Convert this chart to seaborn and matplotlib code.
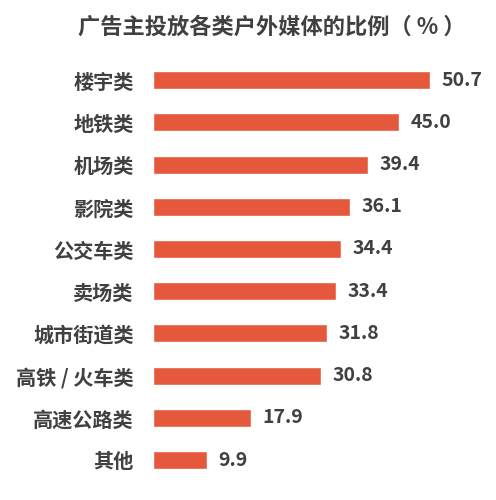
import matplotlib
matplotlib.use('Agg')
import matplotlib.pyplot as plt
import seaborn as sns
import pandas as pd

categories = ["楼宇类", "地铁类", "机场类", "影院类", "公交车类", "卖场类",
              "城市街道类", "高铁 / 火车类", "高速公路类", "其他"]
values = [50.7, 45.0, 39.4, 36.1, 34.4, 33.4, 31.8, 30.8, 17.9, 9.9]
title = "广告主投放各类户外媒体的比例（ % ）"

sns.set_theme(style="white")
plt.rcParams['font.family'] = ['Noto Sans CJK SC', 'DejaVu Sans']

df = pd.DataFrame({"cat": categories, "val": values})

fig = plt.figure(figsize=(4.96, 5.0), dpi=100)
ax = fig.add_axes([153 / 496, 0.0378, 328 / 496, 0.844])

sns.barplot(data=df, x="val", y="cat", orient="h", color="#E5583C",
            width=0.43, saturation=1, ax=ax)

ax.set_xlim(0, 60)
ax.set_xlabel("")
ax.set_ylabel("")
ax.set_xticks([])
sns.despine(ax=ax, left=True, bottom=True)
ax.tick_params(axis="y", length=0, pad=14)
for lab in ax.get_yticklabels():
    lab.set_fontweight("bold")
    lab.set_fontsize(14.5)
    lab.set_color("#404040")

for i, v in enumerate(values):
    ax.text(v + 2.1, i, f"{v:.1f}", va="center", ha="left",
            fontsize=14, fontweight="bold", color="#404040")

fig.text(272 / 496, 1 - 27 / 500, title, ha="center", va="center",
         fontsize=16, fontweight="bold", color="#404040")

fig.savefig("out.png", dpi=100)
